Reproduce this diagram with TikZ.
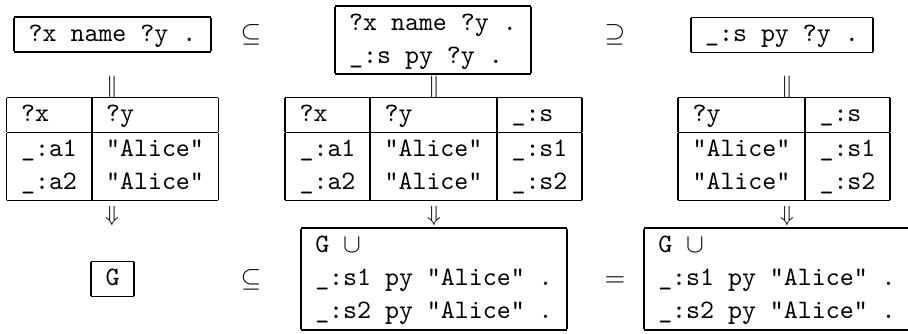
\documentclass[tikz,border=0pt]{standalone}
\usetikzlibrary{positioning}

\setlength{\arrayrulewidth}{0.8pt}
\tikzset{
  tt/.style={inner sep=0pt, font=\fontsize{10.95}{13.6}\selectfont\ttfamily},
  rel/.style={inner sep=0pt, font=\fontsize{10.95}{13.6}\selectfont},
  link/.style={inner sep=0pt, font=\fontsize{9}{11}\selectfont},
}

\begin{document}
\begin{tikzpicture}[x=0.4115pt, y=-0.4115pt]
\useasboundingbox (0,0) rectangle (908,333);

% patterns
\node[tt] (pat1) at (112.5,34.5) {\begin{tabular}{|l|}\hline ?x name ?y .\\\hline\end{tabular}};
\node[tt] (pat2) at (433,40) {\begin{tabular}{|l|}\hline ?x name ?y .\\ \_:s py ?y .\\\hline\end{tabular}};
\node[tt] (pat3) at (782,35) {\begin{tabular}{|l|}\hline \_:s py ?y .\\\hline\end{tabular}};
\node[rel] (sub1) at (251,35) {$\subseteq$};
\node[rel] (sup1) at (615,35) {$\supseteq$};

% solutions
\node[tt] (sol1) at (112.5,149) {\begin{tabular}{|l|l|}\hline
  ?x & ?y\\\hline
  \_:a1 & "Alice"\\
  \_:a2 & "Alice"\\\hline\end{tabular}};
\node[tt] (sol2) at (433.5,149) {\begin{tabular}{|l|l|l|}\hline
  ?x & ?y & \_:s\\\hline
  \_:a1 & "Alice" & \_:s1\\
  \_:a2 & "Alice" & \_:s2\\\hline\end{tabular}};
\node[tt] (sol3) at (784,149) {\begin{tabular}{|l|l|}\hline
  ?y & \_:s\\\hline
  "Alice" & \_:s1\\
  "Alice" & \_:s2\\\hline\end{tabular}};

\foreach \i/\x in {1/112, 2/434, 3/787} {
  \node[link] (eq\i) at (\x,87) {$\Vert$};
  \node[link] (dn\i) at (\x,216) {$\Downarrow$};
}

% results
\node[tt] (res1) at (112.5,279) {\begin{tabular}{|l|}\hline G\\\hline\end{tabular}};
\node[tt] (res2) at (434,279) {\begin{tabular}{|l|}\hline
  G $\cup$\\
  \_:s1 py "Alice" .\\
  \_:s2 py "Alice" .\\\hline\end{tabular}};
\node[tt] (res3) at (777,279) {\begin{tabular}{|l|}\hline
  G $\cup$\\
  \_:s1 py "Alice" .\\
  \_:s2 py "Alice" .\\\hline\end{tabular}};
\node[rel] (sub2) at (251,280) {$\subseteq$};
\node[rel] (same) at (615,282) {$=$};

\end{tikzpicture}
\end{document}
